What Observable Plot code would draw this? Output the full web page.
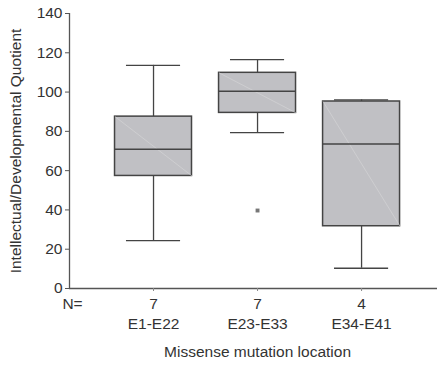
<!DOCTYPE html>
<html>
<head>
<meta charset="utf-8">
<script src="https://cdn.jsdelivr.net/npm/d3@7"></script>
<script src="https://cdn.jsdelivr.net/npm/@observablehq/plot@0.6"></script>
<style>
  html, body { margin: 0; padding: 0; background: #fff; }
  #chart svg { display: block; }
</style>
</head>
<body>
<div id="chart"></div>
<script>
// Intellectual/Developmental Quotient by missense mutation location
const categories = ["E1-E22", "E23-E33", "E34-E41"];
const counts = [7, 7, 4];
const whiskerLow = [24.4, 79.4, 10.3];
const q1 = [57.3, 89.4, 31.7];
const median = [70.9, 100.4, 73.6];
const q3 = [87.5, 109.8, 95.2];
const whiskerHigh = [113.6, 116.5, 96.0];
const outlierCategory = ["E23-E33"];
const outlierValue = [39.7];
const yTicks = [0, 20, 40, 60, 80, 100, 120, 140];

const boxes = categories.map((c, i) => ({
  category: c, pos: i + 1, n: counts[i],
  lo: whiskerLow[i], q1: q1[i], med: median[i], q3: q3[i], hi: whiskerHigh[i]
}));
const outliers = outlierCategory.map((c, i) => ({
  pos: categories.indexOf(c) + 1, value: outlierValue[i]
}));

const boxHalf = 0.37;
const capHalf = 0.26;
const xMin = 0.1923, xMax = 3.73;
const ink = "#444";
const font = "Liberation Sans, Arial, Helvetica, sans-serif";
const fs = 15.5;

const chart = Plot.plot({
  width: 437,
  height: 365,
  marginLeft: 69,
  marginRight: 0,
  marginTop: 13,
  marginBottom: 77,
  style: { fontFamily: font, fontSize: fs + "px", color: "#333", background: "#fff" },
  x: { type: "linear", domain: [xMin, xMax], axis: null },
  y: { domain: [0, 140], axis: null },
  marks: [
    // axes
    Plot.axisY({ ticks: yTicks, tickSize: 4, tickPadding: 3, stroke: "#555", fontSize: fs, label: null }),
    Plot.ruleX([xMin], { y1: 0, y2: 140, stroke: "#555", strokeWidth: 1.3 }),
    Plot.ruleY([0], { stroke: "#555", strokeWidth: 1.3 }),
    Plot.ruleX(boxes, { x: "pos", y1: 0, y2: 0, insetBottom: -3, stroke: "#888", strokeWidth: 1 }),
    // whiskers
    Plot.ruleX(boxes, { x: "pos", y1: "q3", y2: "hi", stroke: ink, strokeWidth: 1.3 }),
    Plot.ruleX(boxes, { x: "pos", y1: "lo", y2: "q1", stroke: ink, strokeWidth: 1.3 }),
    Plot.ruleY(boxes, { y: "hi", x1: d => d.pos - capHalf, x2: d => d.pos + capHalf, stroke: ink, strokeWidth: 1.3 }),
    Plot.ruleY(boxes, { y: "lo", x1: d => d.pos - capHalf, x2: d => d.pos + capHalf, stroke: ink, strokeWidth: 1.3 }),
    // boxes
    Plot.rect(boxes, {
      x1: d => d.pos - boxHalf, x2: d => d.pos + boxHalf, y1: "q1", y2: "q3",
      fill: "#c0c0c4", stroke: ink, strokeWidth: 1.5
    }),
    Plot.link(boxes, {
      x1: d => d.pos - boxHalf, y1: "q3", x2: d => d.pos + boxHalf, y2: "q1",
      stroke: "#d6d6d8", strokeWidth: 0.6
    }),
    Plot.ruleY(boxes, { y: "med", x1: d => d.pos - boxHalf, x2: d => d.pos + boxHalf, stroke: ink, strokeWidth: 1.5 }),
    // outliers
    Plot.dot(outliers, { x: "pos", y: "value", symbol: "square", r: 2.2, fill: "#777", stroke: "none" }),
    // group sizes and category labels
    Plot.text(["N="], { x: xMin, y: 0, dx: 3, dy: 16, fill: "#333", fontSize: fs }),
    Plot.text(boxes, { x: "pos", y: 0, text: d => String(d.n), dy: 16, fill: "#333", fontSize: fs }),
    Plot.text(boxes, { x: "pos", y: 0, text: "category", dy: 36, fill: "#333", fontSize: fs }),
    Plot.text(["Missense mutation location"], { x: 2, y: 0, dy: 64, fill: "#333", fontSize: fs }),
    Plot.text(["Intellectual/Developmental Quotient"], {
      frameAnchor: "left", textAnchor: "middle", dx: -53, rotate: -90, fill: "#333", fontSize: fs
    })
  ]
});

document.getElementById("chart").appendChild(chart);
</script>
</body>
</html>
